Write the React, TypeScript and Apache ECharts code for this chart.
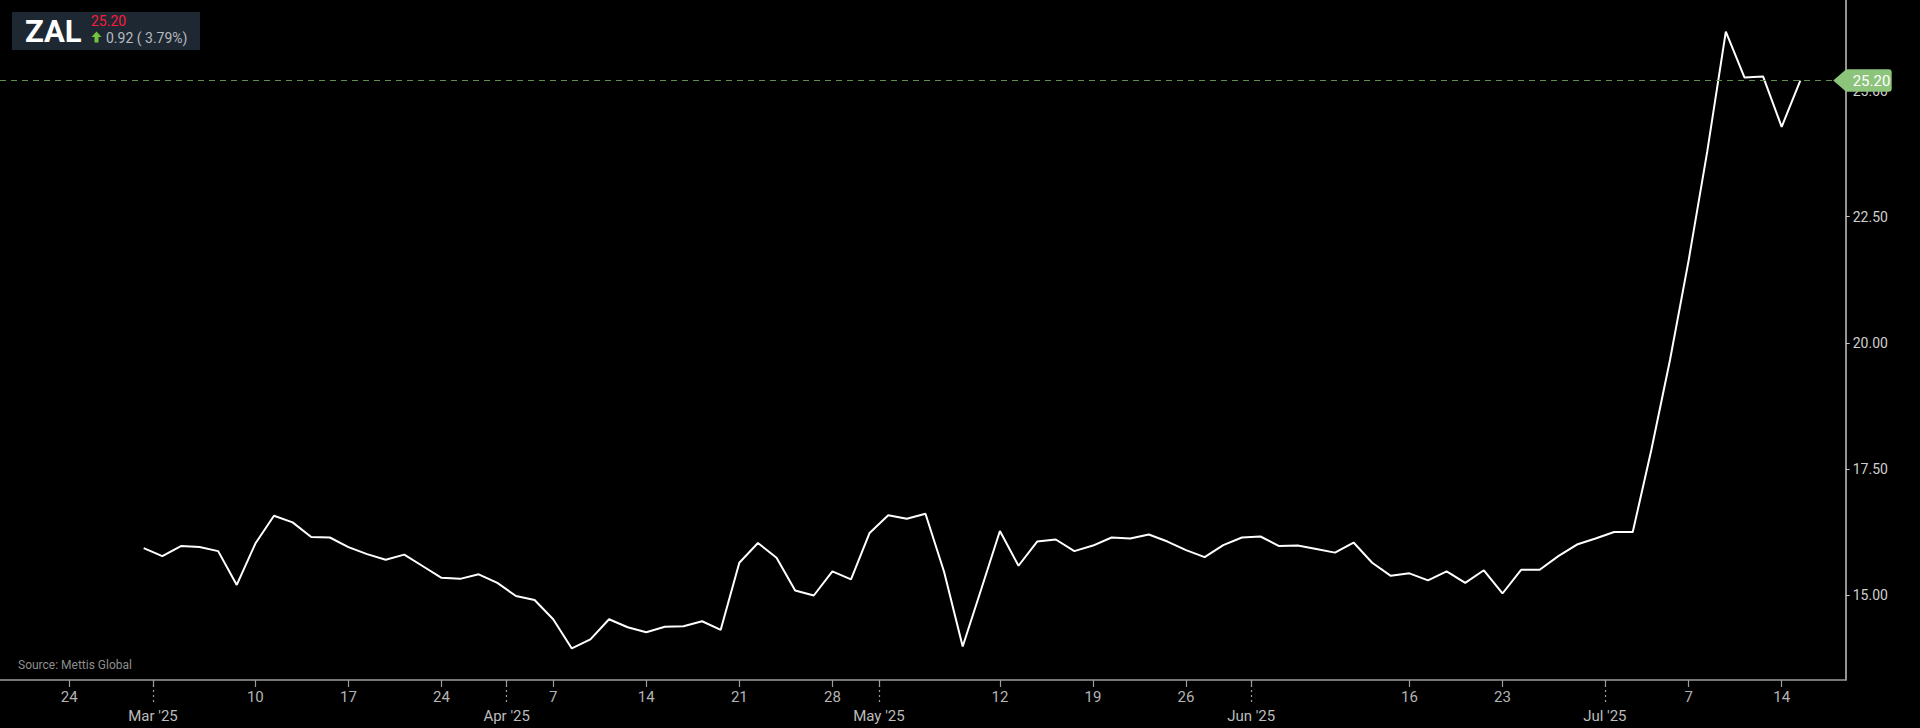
import React, { useEffect, useRef } from "react";
import * as echarts from "echarts";

// Trading days shown on the axis (PSX calendar, holidays excluded)
const tradingDays: string[] = [
  "2025-02-24", "2025-02-25", "2025-02-26", "2025-02-27", "2025-02-28",
  "2025-03-03", "2025-03-04", "2025-03-05", "2025-03-06", "2025-03-07",
  "2025-03-10", "2025-03-11", "2025-03-12", "2025-03-13", "2025-03-14",
  "2025-03-17", "2025-03-18", "2025-03-19", "2025-03-20", "2025-03-21",
  "2025-03-24", "2025-03-25", "2025-03-26", "2025-03-27",
  "2025-04-03", "2025-04-04",
  "2025-04-07", "2025-04-08", "2025-04-09", "2025-04-10", "2025-04-11",
  "2025-04-14", "2025-04-15", "2025-04-16", "2025-04-17", "2025-04-18",
  "2025-04-21", "2025-04-22", "2025-04-23", "2025-04-24", "2025-04-25",
  "2025-04-28", "2025-04-29", "2025-04-30",
  "2025-05-02",
  "2025-05-05", "2025-05-06", "2025-05-07", "2025-05-08", "2025-05-09",
  "2025-05-12", "2025-05-13", "2025-05-14", "2025-05-15", "2025-05-16",
  "2025-05-19", "2025-05-20", "2025-05-21", "2025-05-22", "2025-05-23",
  "2025-05-26", "2025-05-27", "2025-05-29", "2025-05-30",
  "2025-06-02", "2025-06-03", "2025-06-04", "2025-06-05",
  "2025-06-10", "2025-06-11", "2025-06-12", "2025-06-13",
  "2025-06-16", "2025-06-17", "2025-06-18", "2025-06-19", "2025-06-20",
  "2025-06-23", "2025-06-24", "2025-06-25", "2025-06-26", "2025-06-27",
  "2025-06-30",
  "2025-07-01", "2025-07-02", "2025-07-03", "2025-07-04",
  "2025-07-07", "2025-07-08", "2025-07-09", "2025-07-10", "2025-07-11",
  "2025-07-14", "2025-07-15",
];

// First date with a closing price
const firstPriceDate = "2025-02-28";

// ZAL closing prices, one per trading day from firstPriceDate
const prices: number[] = [
  15.93, 15.77, 15.97, 15.95, 15.87, 15.2, 16.02, 16.57, 16.44, 16.15,
  16.14, 15.95, 15.81, 15.7, 15.8, 15.57, 15.34, 15.32, 15.41, 15.24,
  14.98, 14.9, 14.52, 13.94, 14.12, 14.52, 14.36, 14.26, 14.37, 14.38,
  14.48, 14.31, 15.64, 16.03, 15.74, 15.09, 14.99, 15.47, 15.31, 16.23,
  16.58, 16.51, 16.61, 15.46, 13.98, 15.12, 16.27, 15.58, 16.06, 16.1,
  15.87, 15.98, 16.14, 16.12, 16.2, 16.06, 15.89, 15.75, 15.99, 16.14,
  16.16, 15.97, 15.98, 15.91, 15.84, 16.04, 15.64, 15.38, 15.43, 15.29,
  15.47, 15.24, 15.49, 15.03, 15.5, 15.5, 15.77, 16.0, 16.12, 16.25,
  16.25, 17.88, 19.66, 21.63, 23.79, 26.17, 25.26, 25.28, 24.28, 25.2,
];

// Weekly tick dates (labels show the day of month)
const weekTickDates: string[] = [
  "2025-02-24", "2025-03-10", "2025-03-17", "2025-03-24", "2025-04-07",
  "2025-04-14", "2025-04-21", "2025-04-28", "2025-05-12", "2025-05-19",
  "2025-05-26", "2025-06-16", "2025-06-23", "2025-07-07", "2025-07-14",
];

// Month boundaries and their labels
const monthKeys: string[] = ["2025-03", "2025-04", "2025-05", "2025-06", "2025-07"];
const monthLabels: string[] = ["Mar '25", "Apr '25", "May '25", "Jun '25", "Jul '25"];

// Y axis ticks
const yTicks: number[] = [15, 17.5, 20, 22.5, 25];

const ticker = "ZAL";
const lastPrice = 25.2;
const change = 0.92;
const changePct = 3.79;

const FONT = "Roboto";

export default function App() {
  const ref = useRef<HTMLDivElement>(null);

  useEffect(() => {
    if (!ref.current) return;
    const chart = echarts.init(ref.current, null, { renderer: "svg" });

    const startIdx = tradingDays.indexOf(firstPriceDate);
    const data = prices.map((p, i) => [startIdx + i, p]);

    const weekIdx = weekTickDates.map((d) => tradingDays.indexOf(d));
    const weekLabelMap = new Map<number, string>();
    weekIdx.forEach((ix, k) => weekLabelMap.set(ix, String(parseInt(weekTickDates[k].slice(8), 10))));

    const monthPos = monthKeys.map((m) => tradingDays.findIndex((d) => d.startsWith(m)) - 0.5);
    const monthLabelMap = new Map<number, string>();
    monthPos.forEach((p, k) => monthLabelMap.set(p, monthLabels[k]));

    const xMin = -3.72;
    const xMax = 95.44;
    const yMin = 13.315;
    const yMax = 26.796;

    const axisGray = "#9c9c9c";

    const baseGraphic: any[] = [
      {
        id: "boxbg",
        type: "rect",
        z: 100,
        shape: { x: 12, y: 12, width: 188, height: 38 },
        style: { fill: "#1e2832" },
      },
      {
        id: "tick",
        type: "text",
        z: 101,
        style: {
          x: 25,
          y: 31.5,
          text: ticker,
          fill: "#ffffff",
          font: `bold 31px ${FONT}`,
          verticalAlign: "middle",
        },
      },
      {
        id: "last",
        type: "text",
        z: 101,
        style: {
          x: 91,
          y: 20.5,
          text: lastPrice.toFixed(2),
          fill: "#ff1a3d",
          font: `14px ${FONT}`,
          verticalAlign: "middle",
        },
      },
      {
        id: "arrow",
        type: "polygon",
        z: 101,
        shape: {
          points: [
            [96.5, 31.5], [101.5, 37], [98.5, 37], [98.5, 42.5],
            [94.5, 42.5], [94.5, 37], [91.5, 37],
          ],
        },
        style: { fill: "#72c43c" },
      },
      {
        id: "chg",
        type: "text",
        z: 101,
        style: {
          x: 106,
          y: 37.5,
          text: `${change.toFixed(2)} ( ${changePct.toFixed(2)}%)`,
          fill: "#b6bbc0",
          font: `14px ${FONT}`,
          verticalAlign: "middle",
        },
      },
      {
        id: "src",
        type: "text",
        z: 101,
        style: {
          x: 18,
          y: 665,
          text: "Source: Mettis Global",
          fill: "#8e8e8e",
          font: `12px ${FONT}`,
          verticalAlign: "middle",
        },
      },
    ];

    const option: any = {
      backgroundColor: "#000000",
      animation: false,
      grid: { left: 0, right: 74.3, top: 0, bottom: 48, containLabel: false, outerBoundsMode: "none" },
      xAxis: [
        {
          type: "value",
          min: xMin,
          max: xMax,
          position: "bottom",
          axisLine: { show: true, onZero: false, lineStyle: { color: axisGray, width: 1.5 } },
          axisTick: {
            show: true,
            customValues: [...weekIdx, ...monthPos],
            length: 7,
            lineStyle: { color: axisGray, width: 1.2 },
          },
          axisLabel: {
            customValues: weekIdx,
            formatter: (v: number) => weekLabelMap.get(v) ?? "",
            margin: 9,
            color: "#b4b4b4",
            fontSize: 15,
            fontFamily: FONT,
          },
          splitLine: { show: false },
        },
        {
          type: "value",
          min: xMin,
          max: xMax,
          position: "bottom",
          axisLine: { show: false, onZero: false },
          axisTick: {
            show: true,
            customValues: monthPos,
            length: 23,
            lineStyle: { color: axisGray, width: 1.2, type: [2, 3] },
          },
          axisLabel: {
            customValues: monthPos,
            formatter: (v: number) => monthLabelMap.get(v) ?? "",
            margin: 28,
            color: "#bcbcbc",
            fontSize: 15,
            fontFamily: FONT,
          },
          splitLine: { show: false },
        },
      ],
      yAxis: {
        type: "value",
        position: "right",
        min: yMin,
        max: yMax,
        axisLine: { show: true, onZero: false, lineStyle: { color: "#c4c4c4", width: 1.5 } },
        axisTick: {
          show: true,
          customValues: yTicks,
          length: 4,
          lineStyle: { color: "#c4c4c4" },
        },
        axisLabel: {
          customValues: yTicks,
          formatter: (v: number) => v.toFixed(2),
          margin: 7,
          color: "#cfcfcf",
          fontSize: 14,
          fontFamily: FONT,
        },
        splitLine: { show: false },
      },
      series: [
        {
          type: "line",
          data,
          xAxisIndex: 0,
          yAxisIndex: 0,
          symbol: "none",
          lineStyle: { color: "#ffffff", width: 2 },
          markLine: {
            silent: true,
            symbol: "none",
            label: { show: false },
            lineStyle: { color: "#5f8f4e", width: 1.2, type: [6, 5] },
            data: [{ yAxis: lastPrice }],
          },
        },
      ],
      graphic: baseGraphic,
    };

    chart.setOption(option);

    const yPix = chart.convertToPixel({ yAxisIndex: 0 }, lastPrice) as number;
    const xPix = chart.convertToPixel({ xAxisIndex: 0 }, xMax) as number;

    chart.setOption({
      graphic: [
        ...baseGraphic,
        {
          id: "tagTri",
          type: "polygon",
          z: 110,
          shape: {
            points: [
              [xPix - 12.5, yPix],
              [xPix + 0.5, yPix - 11.3],
              [xPix + 0.5, yPix + 11.3],
            ],
          },
          style: { fill: "#8cc47b" },
        },
        {
          id: "tagRect",
          type: "rect",
          z: 110,
          shape: { x: xPix, y: yPix - 11.3, width: 46, height: 22.6, r: [0, 3, 3, 0] },
          style: { fill: "#8cc47b" },
        },
        {
          id: "tagText",
          type: "text",
          z: 111,
          style: {
            x: xPix + 7,
            y: yPix + 0.5,
            text: lastPrice.toFixed(2),
            fill: "#ffffff",
            font: `15px ${FONT}`,
            verticalAlign: "middle",
          },
        },
      ],
    });

    return () => chart.dispose();
  }, []);

  return (
    <div
      ref={ref}
      style={{
        position: "fixed",
        left: 0,
        top: 0,
        width: "1920px",
        height: "728px",
        background: "#000",
      }}
    />
  );
}
